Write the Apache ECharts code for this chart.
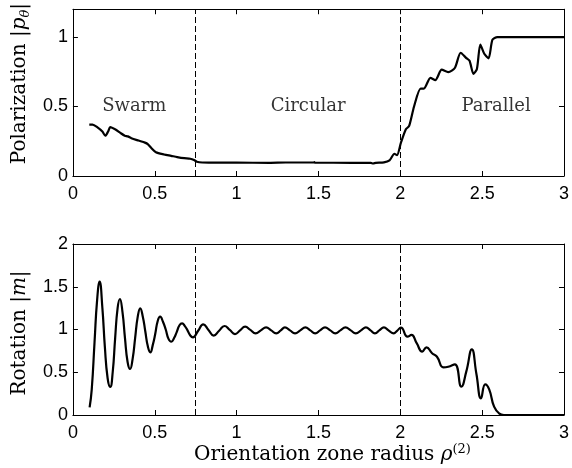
<!DOCTYPE html>
<html><head><meta charset="utf-8">
<script src="https://cdn.jsdelivr.net/npm/echarts@6/dist/echarts.min.js"></script>
<style>html,body{margin:0;padding:0;background:#fff}#c{width:572px;height:468px}</style>
</head><body><div id="c"></div>
<script>
// Polarization |p_theta| vs orientation zone radius
const polX = [0.10,0.12,0.15,0.18,0.198,0.215,0.228,0.26,0.29,0.317,0.335,0.357,0.40,0.44,0.457,0.48,0.507,0.557,0.60,0.637,0.68,0.717,0.74,0.757,0.79,0.85,1.0,1.2,1.3,1.47,1.475,1.48,1.7,1.82,1.834,1.85,1.90,1.934,1.964,1.98,2.004,2.034,2.054,2.084,2.124,2.144,2.184,2.214,2.253,2.293,2.333,2.369,2.40,2.423,2.447,2.468,2.489,2.513,2.539,2.563,2.593,3.0];
const polY = [0.37,0.37,0.35,0.32,0.29,0.32,0.352,0.335,0.31,0.29,0.285,0.272,0.255,0.24,0.23,0.2,0.171,0.155,0.145,0.136,0.128,0.124,0.115,0.103,0.097,0.096,0.096,0.095,0.097,0.097,0.1,0.096,0.095,0.094,0.09,0.095,0.098,0.113,0.16,0.15,0.24,0.336,0.36,0.5,0.629,0.629,0.706,0.69,0.765,0.747,0.777,0.887,0.852,0.829,0.735,0.77,0.946,0.88,0.847,0.981,1.0,1.0];
// Rotation |m| vs orientation zone radius
const rotX = [0.102,0.115,0.132,0.148,0.163,0.18,0.195,0.212,0.228,0.243,0.258,0.273,0.287,0.303,0.318,0.334,0.349,0.365,0.38,0.396,0.411,0.427,0.442,0.458,0.473,0.488,0.503,0.518,0.533,0.55,0.567,0.584,0.601,0.618,0.634,0.651,0.667,0.684,0.70,0.717,0.733,0.765,0.796,0.828,0.86,0.893,0.926,0.958,0.99,1.021,1.052,1.084,1.116,1.148,1.18,1.211,1.242,1.27,1.295,1.326,1.357,1.389,1.42,1.45,1.48,1.51,1.54,1.572,1.603,1.634,1.665,1.697,1.728,1.76,1.79,1.818,1.845,1.872,1.90,1.928,1.96,1.98,2.004,2.044,2.068,2.1,2.134,2.16,2.194,2.224,2.263,2.293,2.333,2.373,2.403,2.437,2.465,2.493,2.519,2.543,2.573,2.603,2.633,3.0];
const rotY = [0.09,0.3,0.85,1.35,1.56,1.25,0.8,0.43,0.33,0.5,0.9,1.25,1.357,1.2,0.9,0.62,0.538,0.66,0.9,1.15,1.248,1.15,0.98,0.8,0.733,0.82,0.95,1.1,1.15,1.09,1.0,0.89,0.857,0.9,0.97,1.05,1.072,1.04,0.99,0.93,0.909,0.985,1.06,0.995,0.928,0.985,1.041,0.995,0.947,0.99,1.033,0.995,0.955,0.99,1.025,0.99,0.955,0.99,1.025,0.99,0.955,0.99,1.025,0.99,0.955,0.99,1.025,0.99,0.955,0.99,1.025,0.99,0.955,0.99,1.025,0.99,0.955,0.99,1.025,0.99,0.955,0.985,1.021,0.916,0.936,0.84,0.741,0.792,0.722,0.682,0.557,0.565,0.593,0.331,0.507,0.768,0.48,0.195,0.359,0.30,0.097,0.02,0.0,0.0];

const xMin = 0, xMax = 3, xStep = 0.5;
const polMax = 1.2, rotMax = 2, yStep = 0.5;
const boundaries = [0.75, 2];
const regionNames = ['Swarm', 'Circular', 'Parallel'];
const regionX = [0.375, 1.437, 2.585];
const regionY = [0.5, 0.5, 0.5];

const zip = (a, b) => a.map((v, i) => [v, b[i]]);
const serif = 'DejaVu Serif';
const sans = 'Liberation Sans';

function xAx(gi, pos, extra) {
  return Object.assign({
    type: 'value', gridIndex: gi, position: pos, min: xMin, max: xMax, interval: xStep,
    axisLine: { show: true, onZero: false, lineStyle: { color: '#000', width: 1 } },
    axisTick: { show: true, inside: true, length: 5, lineStyle: { color: '#000' } },
    splitLine: { show: false },
    axisLabel: { show: pos === 'bottom', color: '#000', fontFamily: sans, fontSize: 18, margin: 9 }
  }, extra || {});
}
function yAx(gi, pos, max, extra) {
  return Object.assign({
    type: 'value', gridIndex: gi, position: pos, min: 0, max: max, interval: yStep,
    axisLine: { show: true, onZero: false, lineStyle: { color: '#000', width: 1 } },
    axisTick: { show: true, inside: true, length: 5, lineStyle: { color: '#000' } },
    splitLine: { show: false },
    axisLabel: { show: pos === 'left', color: '#000', fontFamily: sans, fontSize: 18, margin: 5, showMaxLabel: max === rotMax }
  }, extra || {});
}
const nameStyle = (pad) => ({
  fontFamily: serif, fontSize: 20, color: '#000', padding: pad, lineHeight: 24,
  rich: {
    a: { fontFamily: serif, fontSize: 20, lineHeight: 24, verticalAlign: 'middle' },
    i: { fontFamily: serif, fontSize: 20, fontStyle: 'italic', lineHeight: 24, verticalAlign: 'middle' },
    s: { fontFamily: serif, fontSize: 13, fontStyle: 'italic', lineHeight: 13, verticalAlign: 'bottom' },
    u: { fontFamily: serif, fontSize: 13, lineHeight: 13, verticalAlign: 'top' }
  }
});

const markLines = {
  silent: true, symbol: ['none', 'none'],
  label: { show: false },
  lineStyle: { color: '#000', width: 1, type: [6, 3] },
  data: boundaries.map(b => ({ xAxis: b }))
};

const chart = echarts.init(document.getElementById('c'), null, { renderer: 'canvas' });
chart.setOption({
  animation: false,
  backgroundColor: '#fff',
  grid: [
    { left: 67, top: 5, width: 500, height: 171 },
    { left: 67, top: 244, width: 500, height: 171 }
  ],
  xAxis: [
    xAx(0, 'bottom'),
    xAx(0, 'top'),
    xAx(1, 'bottom', {
      name: '{a|Orientation zone radius }{i|ρ}{u|(2)}',
      nameLocation: 'middle', nameGap: 23,
      nameTextStyle: nameStyle([0, 0, 0, 28])
    }),
    xAx(1, 'top')
  ],
  yAxis: [
    yAx(0, 'left', polMax, {
      name: '{a|Polarization |}{i|p}{s|θ}{a||}',
      nameLocation: 'middle', nameGap: 34,
      nameTextStyle: nameStyle([0, 0, 0, 18])
    }),
    yAx(0, 'right', polMax),
    yAx(1, 'left', rotMax, {
      name: '{a|Rotation |}{i|m}{a||}',
      nameLocation: 'middle', nameGap: 34,
      nameTextStyle: nameStyle([0, 7, 0, 0])
    }),
    yAx(1, 'right', rotMax)
  ],
  series: [
    {
      type: 'line', xAxisIndex: 0, yAxisIndex: 0, data: zip(polX, polY),
      showSymbol: false, smooth: 0.25, lineStyle: { color: '#000', width: 2.2 },
      markLine: markLines, z: 3
    },
    {
      type: 'line', xAxisIndex: 2, yAxisIndex: 2, data: zip(rotX, rotY),
      showSymbol: false, smooth: 0.5, lineStyle: { color: '#000', width: 2.2 },
      markLine: markLines, z: 3
    },
    {
      type: 'scatter', xAxisIndex: 0, yAxisIndex: 0, symbolSize: 0, silent: true,
      data: regionX.map((x, i) => [x, regionY[i], regionNames[i]]),
      label: { show: true, position: 'inside', formatter: p => p.data[2], color: '#000', fontFamily: serif, fontSize: 18 }
    }
  ]
});
</script>
</body></html>
